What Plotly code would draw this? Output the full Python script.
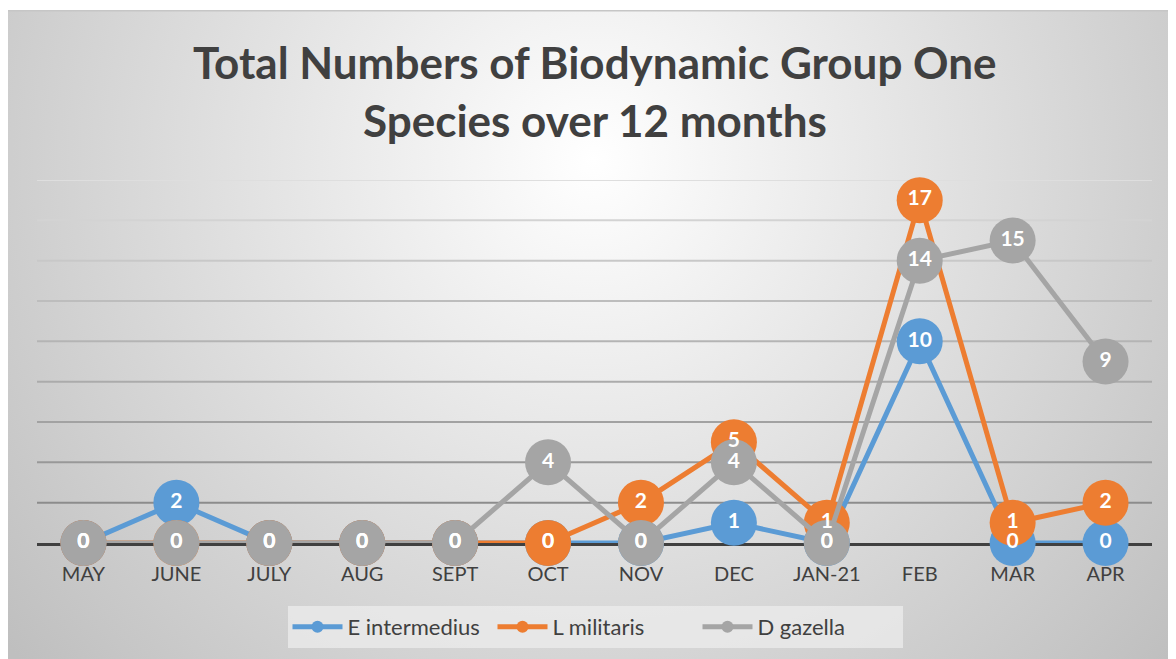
import base64
import plotly.graph_objects as go

months = ["MAY", "JUNE", "JULY", "AUG", "SEPT", "OCT", "NOV", "DEC", "JAN-21", "FEB", "MAR", "APR"]
e_intermedius = [0, 2, 0, 0, 0, 0, 0, 1, 0, 10, 0, 0]
l_militaris = [0, 0, 0, 0, 0, 0, 2, 5, 1, 17, 1, 2]
d_gazella = [0, 0, 0, 0, 0, 4, 0, 4, 0, 14, 15, 9]

series = [
    ("E intermedius", e_intermedius, "#5b9bd5"),
    ("L militaris", l_militaris, "#ed7d31"),
    ("D gazella", d_gazella, "#a5a5a5"),
]

W, H = 1176, 659
L, R, T, B = 29, 32, 172, 124
pw, ph = W - L - R, H - T - B

# background gradient as svg (figure coordinates)
BG_TOP = 2
bw, bh = W, H - BG_TOP
svg = f'''<svg xmlns="http://www.w3.org/2000/svg" width="{bw}" height="{bh}" viewBox="0 0 {bw} {bh}" preserveAspectRatio="none">
<defs><radialGradient id="g" gradientUnits="userSpaceOnUse" cx="585" cy="150" r="760">
<stop offset="0" stop-color="#ffffff"/><stop offset="1" stop-color="#bfbfbf"/></radialGradient></defs>
<rect x="0" y="0" width="{bw}" height="{bh}" fill="url(#g)"/>
<rect x="0" y="0" width="{bw}" height="1.5" fill="#c6c6c6"/>
</svg>'''
src = "data:image/svg+xml;base64," + base64.b64encode(svg.encode()).decode()

fig = go.Figure()

for name, vals, color in series:
    fig.add_trace(go.Scatter(
        x=months, y=vals, name=name, mode="lines+markers",
        line=dict(color=color, width=5),
        marker=dict(color=color, size=46),
        cliponaxis=False, hoverinfo="skip",
    ))

for name, vals, color in series:
    fig.add_trace(go.Scatter(
        x=months, y=vals, mode="text", text=[str(v) for v in vals],
        textposition="middle center",
        textfont=dict(family="Lato", size=21, color="white", weight="bold"),
        showlegend=False, cliponaxis=False, hoverinfo="skip",
    ))

grid_colors = {2: "#8c8c8c", 4: "#989898", 6: "#a2a2a2", 8: "#ababab", 10: "#b4b4b4",
               12: "#bdbdbd", 14: "#c8c8c8", 16: "#d3d3d3", 18: "#dedede"}
shapes = []
for lvl, c in grid_colors.items():
    shapes.append(dict(type="line", xref="paper", yref="y", x0=0, x1=1, y0=lvl, y1=lvl,
                       line=dict(color=c, width=2), layer="below"))

fig.update_layout(
    width=W, height=H,
    margin=dict(l=L, r=R, t=T, b=B, pad=0),
    paper_bgcolor="white", plot_bgcolor="rgba(0,0,0,0)",
    showlegend=True,
    legend=dict(orientation="h", x=(595 - 8 - L) / pw, xanchor="center", y=(535 - 619) / ph, yanchor="middle",
                bgcolor="rgba(236,236,236,0.75)", font=dict(family="Lato", size=22, color="#404040"),
                itemsizing="constant", itemwidth=50, entrywidth=140, entrywidthmode="pixels",
                borderwidth=0),
    images=[dict(source=src, xref="paper", yref="paper",
                 x=(0 - L) / pw, y=(H - BG_TOP - B) / ph,
                 sizex=bw / pw, sizey=bh / ph,
                 xanchor="left", yanchor="top", sizing="stretch", layer="below")],
    shapes=shapes,
    annotations=[
        dict(text="Total Numbers of Biodynamic Group One", xref="paper", yref="paper",
             x=(587 - L) / pw, y=(H - 54 - B) / ph, xanchor="center", yanchor="middle",
             showarrow=False, font=dict(family="Lato", size=44, color="#404040", weight="bold")),
        dict(text="Species over 12 months", xref="paper", yref="paper",
             x=(587 - L) / pw, y=(H - 112 - B) / ph, xanchor="center", yanchor="middle",
             showarrow=False, font=dict(family="Lato", size=44, color="#404040", weight="bold")),
    ],
    xaxis=dict(showgrid=False, showline=True, linecolor="#404040", linewidth=3,
               layer="below traces", ticks="", ticklabelstandoff=11,
               tickfont=dict(family="Lato", size=20, color="#404040"),
               range=[-0.5, 11.5], fixedrange=True),
    yaxis=dict(range=[0, 18], showgrid=False, zeroline=False, showticklabels=False,
               showline=False, fixedrange=True),
)

fig.write_html("out.html")
